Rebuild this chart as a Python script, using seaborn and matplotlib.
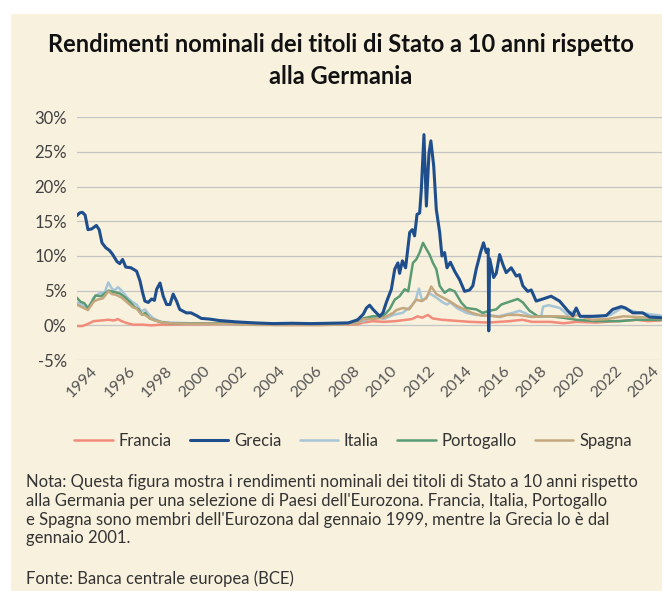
import numpy as np
import pandas as pd
import seaborn as sns
import matplotlib.pyplot as plt
from matplotlib.patches import Rectangle
from matplotlib.ticker import FuncFormatter

# Spread a 10 anni rispetto alla Germania (%)
francia_anni = [1993.0, 1993.3, 1993.6, 1993.9, 1994.3, 1994.7, 1995.0, 1995.2, 1995.4, 1995.7,
                1996.0, 1996.5, 1997.0, 1997.5, 1998.0, 1999.0, 2000.0, 2001.0, 2002.0, 2003.0,
                2004.0, 2005.0, 2006.0, 2007.0, 2008.0, 2008.3, 2008.8, 2009.4, 2010.0, 2010.9,
                2011.2, 2011.45, 2011.75, 2012.0, 2012.5, 2013.0, 2014.0, 2015.0, 2016.1, 2016.8,
                2017.3, 2018.3, 2019.0, 2019.7, 2020.7, 2021.8, 2022.9, 2023.5, 2024.2]
francia_val = [-0.1, -0.1, 0.2, 0.6, 0.7, 0.8, 0.7, 0.9, 0.6, 0.3,
               0.1, 0.1, 0.0, 0.1, 0.1, 0.15, 0.15, 0.2, 0.15, 0.1,
               0.05, 0.05, 0.05, 0.1, 0.15, 0.4, 0.6, 0.5, 0.6, 0.9,
               1.3, 1.1, 1.5, 1.0, 0.8, 0.7, 0.5, 0.4, 0.6, 0.8,
               0.5, 0.5, 0.3, 0.5, 0.4, 0.6, 0.8, 0.6, 0.7]

grecia_anni = [1993.0, 1993.15, 1993.3, 1993.45, 1993.6, 1993.8, 1994.05, 1994.2, 1994.35, 1994.55,
               1994.75, 1994.9, 1995.15, 1995.3, 1995.45, 1995.62, 1995.9, 1996.2, 1996.38, 1996.52,
               1996.64, 1996.82, 1997.0, 1997.15, 1997.27, 1997.45, 1997.62, 1997.8, 1997.98, 1998.15,
               1998.33, 1998.5, 1998.85, 1999.1, 1999.4, 1999.65, 2000.1, 2000.6, 2001.5, 2002.5,
               2003.5, 2004.5, 2005.5, 2006.5, 2007.5, 2008.0, 2008.3, 2008.47, 2008.64, 2008.82,
               2009.18, 2009.35, 2009.53, 2009.8, 2009.98, 2010.15, 2010.24, 2010.39, 2010.56, 2010.78,
               2010.92, 2011.04, 2011.17, 2011.31, 2011.4, 2011.54, 2011.67, 2011.81, 2011.91, 2012.06,
               2012.2, 2012.38, 2012.5, 2012.64, 2012.77, 2012.95, 2013.18, 2013.44, 2013.71, 2013.98,
               2014.15, 2014.33, 2014.56, 2014.72, 2014.87, 2014.97, 2015.0, 2015.05, 2015.26, 2015.4,
               2015.58, 2015.75, 2015.93, 2016.2, 2016.47, 2016.64, 2016.82, 2017.08, 2017.27, 2017.53,
               2017.89, 2018.33, 2018.78, 2019.22, 2019.49, 2019.67, 2019.88, 2020.55, 2021.27, 2021.62,
               2022.07, 2022.3, 2022.69, 2023.22, 2023.58, 2024.2]
grecia_val = [15.8, 16.2, 16.3, 15.9, 13.8, 13.9, 14.4, 13.8, 11.9, 11.2,
              10.8, 10.3, 9.2, 8.9, 9.5, 8.4, 8.3, 7.8, 6.4, 4.7,
              3.5, 3.3, 3.8, 3.6, 5.2, 6.1, 4.2, 3.0, 3.0, 4.5,
              3.5, 2.3, 1.8, 1.8, 1.4, 1.0, 0.9, 0.7, 0.5, 0.35,
              0.25, 0.3, 0.25, 0.3, 0.35, 0.8, 1.6, 2.5, 2.9, 2.3,
              1.3, 1.8, 3.3, 5.2, 8.1, 9.0, 7.5, 9.3, 8.3, 13.4,
              13.8, 12.9, 16.0, 16.2, 19.6, 27.5, 17.2, 24.9, 26.6, 23.0,
              16.7, 13.4, 10.0, 10.5, 8.3, 9.1, 7.8, 6.6, 4.9, 5.1,
              5.7, 8.1, 10.5, 11.9, 10.5, 11.0, -0.8, 9.6, 6.9, 7.5,
              10.2, 8.8, 7.6, 8.3, 7.1, 7.3, 5.7, 4.9, 5.1, 3.5,
              3.8, 4.2, 3.5, 2.1, 1.4, 2.5, 1.3, 1.3, 1.4, 2.3,
              2.7, 2.5, 1.8, 1.8, 1.2, 1.1]

italia_anni = [1993.0, 1993.3, 1993.6, 1993.9, 1994.2, 1994.5, 1994.69, 1994.85, 1995.0, 1995.2,
               1995.4, 1995.7, 1996.0, 1996.2, 1996.45, 1996.64, 1996.85, 1997.1, 1997.5, 1998.0,
               1999.0, 2000.0, 2001.0, 2002.0, 2003.0, 2004.0, 2005.0, 2006.0, 2007.0, 2008.0,
               2008.3, 2008.6, 2009.0, 2009.4, 2009.9, 2010.4, 2010.87, 2011.1, 2011.27, 2011.45,
               2011.65, 2011.85, 2012.2, 2012.55, 2012.77, 2012.95, 2013.3, 2013.8, 2014.3, 2014.9,
               2015.5, 2016.3, 2016.64, 2016.9, 2017.3, 2017.8, 2017.9, 2018.2, 2018.8, 2019.22,
               2019.67, 2019.9, 2020.7, 2021.5, 2022.1, 2022.4, 2022.9, 2023.6, 2024.2]
italia_val = [3.3, 2.9, 2.4, 4.0, 4.6, 4.8, 6.2, 5.4, 5.0, 5.5,
              5.0, 4.0, 3.3, 3.0, 2.0, 2.3, 1.6, 1.0, 0.5, 0.4,
              0.3, 0.3, 0.35, 0.3, 0.25, 0.2, 0.2, 0.3, 0.3, 0.4,
              0.6, 1.0, 1.3, 0.9, 1.5, 1.8, 2.8, 3.7, 5.3, 3.5,
              4.0, 4.6, 4.0, 3.3, 3.0, 3.3, 2.5, 1.8, 1.5, 1.5,
              1.3, 1.8, 2.1, 1.8, 1.3, 1.3, 2.7, 2.9, 2.5, 1.5,
              2.3, 1.2, 1.2, 1.5, 2.5, 2.3, 1.9, 1.6, 1.4]

portogallo_anni = [1993.0, 1993.2, 1993.4, 1993.6, 1993.8, 1994.0, 1994.3, 1994.5, 1994.7, 1995.0,
                   1995.3, 1995.6, 1995.9, 1996.1, 1996.3, 1996.5, 1996.65, 1996.9, 1997.2, 1997.6,
                   1998.0, 1999.0, 2000.0, 2001.0, 2002.0, 2003.0, 2004.0, 2005.0, 2006.0, 2007.0,
                   2008.0, 2008.3, 2008.8, 2009.35, 2009.7, 2009.98, 2010.24, 2010.51, 2010.7, 2010.95,
                   2011.13, 2011.31, 2011.49, 2011.67, 2011.84, 2012.02, 2012.2, 2012.38, 2012.64, 2012.91,
                   2013.18, 2013.53, 2013.8, 2014.33, 2014.68, 2015.04, 2015.4, 2015.67, 2016.1, 2016.55,
                   2016.82, 2017.18, 2017.62, 2018.3, 2018.95, 2019.67, 2020.7, 2022.0, 2022.87, 2024.2]
portogallo_val = [4.0, 3.4, 3.2, 2.5, 3.3, 4.3, 4.2, 4.6, 5.0, 4.8,
                  4.6, 4.0, 3.2, 2.6, 2.3, 1.5, 1.8, 1.0, 0.7, 0.4,
                  0.3, 0.25, 0.3, 0.3, 0.2, 0.15, 0.15, 0.15, 0.2, 0.2,
                  0.4, 1.0, 1.3, 1.3, 2.3, 3.7, 4.2, 5.2, 4.9, 9.0,
                  9.5, 10.5, 11.9, 11.0, 10.2, 9.0, 8.1, 5.7, 4.7, 5.2,
                  4.9, 3.3, 2.5, 2.3, 1.8, 2.1, 2.3, 3.0, 3.4, 3.8,
                  3.3, 2.1, 1.3, 1.3, 1.1, 0.8, 0.6, 0.6, 0.8, 0.8]

spagna_anni = [1993.0, 1993.3, 1993.6, 1993.9, 1994.1, 1994.4, 1994.69, 1994.9, 1995.1, 1995.4,
               1995.7, 1996.0, 1996.2, 1996.45, 1996.64, 1996.9, 1997.2, 1997.6, 1998.0, 1999.0,
               2000.0, 2001.0, 2002.0, 2003.0, 2004.0, 2005.0, 2006.0, 2007.0, 2008.0, 2008.3,
               2008.8, 2009.4, 2009.9, 2010.07, 2010.42, 2010.75, 2011.13, 2011.4, 2011.67, 2011.93,
               2012.2, 2012.55, 2012.9, 2013.3, 2013.7, 2014.1, 2014.6, 2015.0, 2015.6, 2016.0,
               2016.6, 2017.3, 2017.9, 2018.8, 2019.5, 2019.67, 2020.5, 2021.3, 2022.2, 2023.0,
               2024.2]
spagna_val = [3.0, 2.6, 2.2, 3.4, 3.7, 3.9, 4.9, 4.5, 4.4, 4.0,
              3.3, 2.6, 2.4, 1.6, 1.5, 1.0, 0.7, 0.4, 0.3, 0.2,
              0.25, 0.2, 0.1, 0.05, 0.05, 0.05, 0.05, 0.1, 0.3, 0.9,
              0.9, 1.1, 1.8, 2.2, 2.5, 2.3, 3.7, 3.5, 3.9, 5.6,
              4.5, 4.0, 3.5, 2.8, 2.3, 1.8, 1.4, 1.4, 1.2, 1.5,
              1.5, 1.2, 1.3, 1.3, 1.2, 1.5, 0.8, 0.9, 1.3, 1.2,
              1.0]

anni_tick = list(range(1994, 2025, 2))
y_tick = [-5, 0, 5, 10, 15, 20, 25, 30]

# Nome, dati, colore, spessore (ordine di disegno)
serie = [
    ('Francia', francia_anni, francia_val, '#f28b7a', 1.8),
    ('Italia', italia_anni, italia_val, '#a6c5d7', 1.8),
    ('Portogallo', portogallo_anni, portogallo_val, '#5a9b73', 1.8),
    ('Spagna', spagna_anni, spagna_val, '#c4a77d', 1.8),
    ('Grecia', grecia_anni, grecia_val, '#1f4e8c', 2.2),
]
ordine_legenda = ['Francia', 'Grecia', 'Italia', 'Portogallo', 'Spagna']

sns.set_theme(style='white')
plt.rcParams['font.family'] = ['Lato', 'DejaVu Sans']
plt.rcParams['axes.unicode_minus'] = False

bg = '#f8f1de'
fig = plt.figure(figsize=(6.62, 5.91), dpi=100, facecolor='white')
# Pannello beige, dietro a tutto
fig.patches.append(Rectangle((11 / 662, 0), 1, 1 - 14 / 591, transform=fig.transFigure,
                             facecolor=bg, edgecolor='none', zorder=-10))

ax = fig.add_axes([76.7 / 662, 1 - 360 / 591, 1 - 76.7 / 662, (360 - 117.3) / 591])
ax.set_facecolor('none')
ax.set_zorder(5)

for nome, anni, valori, colore, lw in serie:
    df = pd.DataFrame({'anno': anni, 'valore': valori})
    sns.lineplot(data=df, x='anno', y='valore', color=colore, linewidth=lw,
                 estimator=None, sort=False, label=nome, ax=ax)

ax.set_xlim(1993.0, 2024.25)
ax.set_ylim(-5, 30)
ax.set_xticks(anni_tick)
ax.set_yticks(y_tick)
ax.yaxis.set_major_formatter(FuncFormatter(lambda v, p: f'{v:.0f}%'))
ax.set_xlabel('')
ax.set_ylabel('')
ax.grid(axis='y', color='#c4c4c4', linewidth=0.9)
ax.grid(axis='x', visible=False)
ax.set_axisbelow(True)
for s in ax.spines.values():
    s.set_visible(False)
ax.tick_params(axis='both', length=0)
ax.tick_params(axis='y', labelsize=12, labelcolor='#404040', pad=7)
ax.tick_params(axis='x', labelbottom=False)

# Etichette degli anni inclinate a 45 gradi
for anno in anni_tick:
    ax.text(anno, -0.035, str(anno), transform=ax.get_xaxis_transform(),
            rotation=45, rotation_mode='anchor', ha='right', va='center',
            fontsize=11.5, color='#555555')

# Legenda sotto il grafico
handles, labels = ax.get_legend_handles_labels()
ax.get_legend().remove()
mappa = dict(zip(labels, handles))
leg = fig.legend([mappa[n] for n in ordine_legenda], ordine_legenda, loc='center',
                 bbox_to_anchor=(353 / 662, 1 - 440.7 / 591), ncol=5, frameon=False,
                 fontsize=12, handlelength=2.3, handletextpad=0.35, columnspacing=1.1)
for t in leg.get_texts():
    t.set_color('#333333')

# Titolo
fig.text(341 / 662, 1 - 45 / 591, 'Rendimenti nominali dei titoli di Stato a 10 anni rispetto',
         ha='center', va='center', fontsize=17, fontweight='bold', color='#111111')
fig.text(341 / 662, 1 - 76 / 591, 'alla Germania',
         ha='center', va='center', fontsize=17, fontweight='bold', color='#111111')

# Nota e fonte
nota = [
    "Nota: Questa figura mostra i rendimenti nominali dei titoli di Stato a 10 anni rispetto",
    "alla Germania per una selezione di Paesi dell'Eurozona. Francia, Italia, Portogallo",
    "e Spagna sono membri dell'Eurozona dal gennaio 1999, mentre la Grecia lo è dal",
    "gennaio 2001.",
]
y_righe = [481.7, 500.7, 520, 538.3]
for riga, yy in zip(nota, y_righe):
    fig.text(26 / 662, 1 - yy / 591, riga, ha='left', va='center', fontsize=12, color='#333333')
fig.text(26 / 662, 1 - 578.3 / 591, 'Fonte: Banca centrale europea (BCE)',
         ha='left', va='center', fontsize=12, color='#333333')

fig.savefig('out.png', dpi=100, facecolor='white')
